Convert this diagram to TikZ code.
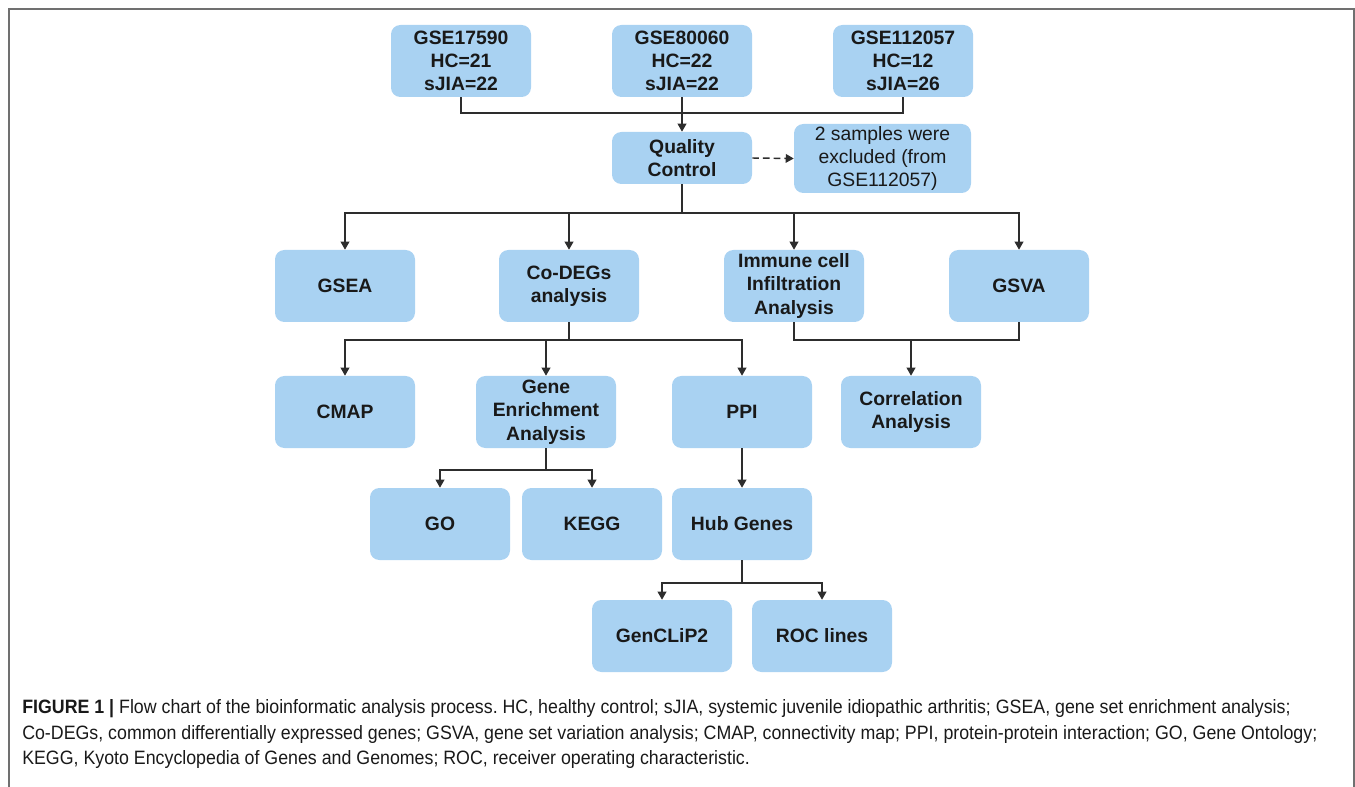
\documentclass[tikz,border=0pt]{standalone}
\usepackage{fontspec}
\setmainfont{Liberation Sans}
\newfontfamily\capfont[FakeStretch=0.92]{Liberation Sans}
\usetikzlibrary{arrows.meta}
\definecolor{boxblue}{RGB}{169,210,242}
\definecolor{linegray}{RGB}{45,45,45}
\definecolor{framegray}{RGB}{112,112,112}
\frenchspacing
\begin{document}
\begin{tikzpicture}[x=0.75pt, y=-0.75pt,
	box/.style={fill=boxblue, rounded corners=7pt, minimum width=105pt, minimum height=54pt, inner sep=0pt, align=center, text=black!90, font=\fontsize{14.5}{17.5}\selectfont\bfseries},
	plain box/.style={box, font=\fontsize{14.5}{17.5}\selectfont},
	link/.style={draw=linegray, line width=1.1pt},
	arrow/.style={link, -{Triangle[length=6pt, width=6.5pt]}},
	caption/.style={anchor=west, inner sep=0pt, text=black!90, font=\capfont\fontsize{14.5}{17}\selectfont}]
	\useasboundingbox (0,0) rectangle (1355,787);
	\draw[framegray, line width=1.2pt] (9,787) -- (9,9) -- (1354,9) -- (1354,787);
	\node[box] (g1) at (461,61) {GSE17590\\HC=21\\sJIA=22};
	\node[box] (g2) at (682,61) {GSE80060\\HC=22\\sJIA=22};
	\node[box] (g3) at (903,61) {GSE112057\\HC=12\\sJIA=26};
	\node[box, minimum height=39pt] (qc) at (682,158) {Quality\\Control};
	\node[plain box, minimum width=132.75pt, minimum height=51.75pt] (excl) at (882.5,158.5) {2 samples were\\excluded (from\\GSE112057)};
	\node[box] (gsea) at (345,286) {GSEA};
	\node[box] (deg) at (569,286) {Co-DEGs\\analysis};
	\node[box] (imm) at (794,286) {Immune cell\\Infiltration\\Analysis};
	\node[box] (gsva) at (1019,286) {GSVA};
	\node[box] (cmap) at (345,412) {CMAP};
	\node[box] (gea) at (546,412) {Gene\\Enrichment\\Analysis};
	\node[box] (ppi) at (742,412) {PPI};
	\node[box] (corr) at (911,412) {Correlation\\Analysis};
	\node[box] (go) at (440,524) {GO};
	\node[box] (kegg) at (592,524) {KEGG};
	\node[box] (hub) at (742,524) {Hub Genes};
	\node[box] (gcp) at (662,636) {GenCLiP2};
	\node[box] (roc) at (822,636) {ROC lines};
	\coordinate (j1) at (682,113);
	\coordinate (j2) at (682,213);
	\coordinate (j3) at (569,340);
	\coordinate (j4) at (911,340);
	\coordinate (j5) at (546,470);
	\coordinate (j6) at (742,583);
	\draw[link] (g1.south) |- (j1) -| (g3.south);
	\draw[arrow] (g2.south) -- (qc.north);
	\draw[arrow, dash pattern=on 5pt off 3pt] (qc.east) -- (excl.west);
	\draw[link] (qc.south) -- (j2);
	\foreach \n in {gsea,deg,imm,gsva}
		\draw[arrow] (j2) -| (\n.north);
	\draw[link] (deg.south) -- (j3);
	\foreach \n in {cmap,gea,ppi}
		\draw[arrow] (j3) -| (\n.north);
	\draw[link] (imm.south) |- (j4) -| (gsva.south);
	\draw[arrow] (j4) -- (corr.north);
	\draw[link] (gea.south) -- (j5);
	\foreach \n in {go,kegg}
		\draw[arrow] (j5) -| (\n.north);
	\draw[arrow] (ppi.south) -- (hub.north);
	\draw[link] (hub.south) -- (j6);
	\foreach \n in {gcp,roc}
		\draw[arrow] (j6) -| (\n.north);
	\node[caption] (cap1) at (22,709) {\textbf{FIGURE 1 |} Flow chart of the bioinformatic analysis process. HC, healthy control; sJIA, systemic juvenile idiopathic arthritis; GSEA, gene set enrichment analysis;};
	\node[caption] (cap2) at (22,734) {Co-DEGs, common differentially expressed genes; GSVA, gene set variation analysis; CMAP, connectivity map; PPI, protein-protein interaction; GO, Gene Ontology;};
	\node[caption] (cap3) at (22,759) {KEGG, Kyoto Encyclopedia of Genes and Genomes; ROC, receiver operating characteristic.};
\end{tikzpicture}
\end{document}
